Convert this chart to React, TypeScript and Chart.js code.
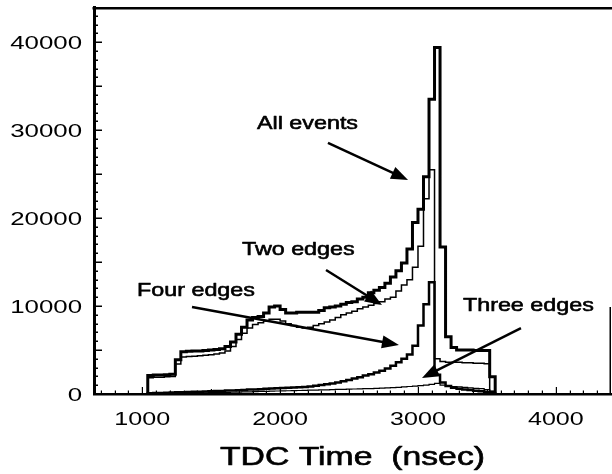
import { useEffect, useRef } from "react";
import { Chart, registerables } from "chart.js";

Chart.register(...registerables);

// Histogram binning (ns)
const BIN_START = 1040;
const BIN_WIDTH = 40;

// Counts per 40 ns bin, starting at BIN_START
const ALL_EVENTS = [
  2100, 2150, 2150, 2200, 2250,
  3900,
  4800, 4850, 4900, 4900, 4950, 5000, 5050, 5150,
  5400, 5900, 6800, 7600, 8400, 8700, 8800, 9200, 9900, 10000,
  9600, 9200, 9200, 9300, 9300, 9300, 9300, 9500, 9800, 9900,
  10000, 10200, 10400, 10500, 10800, 11000, 11500, 11800, 12100, 12600,
  13300, 14000, 14900, 16500, 19500, 21000, 24700, 33500, 39400, 16700,
  6500, 5300, 5000, 5000, 5000, 4950, 4950, 4950, 1950,
];

const TWO_EDGES = [
  1850, 1900, 1900, 1950, 2000,
  3400,
  4200, 4250, 4300, 4350, 4400, 4450, 4550, 4650,
  4900, 5400, 6200, 6900, 7500, 7900, 8100, 8300, 8500, 8500,
  8300, 8000, 7800, 7600, 7500, 7600, 7800, 8000, 8200, 8400,
  8700, 9000, 9200, 9400, 9700, 9900, 10100, 10300, 10500, 10800,
  11000, 11700, 12400, 13000, 14400, 16800, 22200, 25500, 4000, 3700,
  3600, 3600, 3600, 3550, 3550, 3500, 3500, 3450, 300,
];

const FOUR_EDGES = [
  90, 110, 120, 150, 160, 190, 200, 230, 250, 260,
  290, 300, 340, 350, 390, 400, 440, 460, 500, 520,
  550, 590, 620, 660, 690, 720, 740, 770, 800, 860,
  930, 1020, 1100, 1200, 1300, 1450, 1600, 1750, 1900, 2100,
  2250, 2450, 2650, 2900, 3200, 3600, 4000, 4500, 5500, 7800,
  10200, 12700, 2200,
  1300, 900, 700, 600, 520, 450, 380, 300, 230, 120,
];

const THREE_EDGES = [
  40, 50, 55, 65, 70, 80, 95, 100, 110, 125,
  130, 150, 160, 170, 190, 200, 220, 240, 250, 270,
  290, 300, 320, 340, 350, 370, 380, 400, 420, 430,
  450, 470, 480, 500, 520, 530, 550, 570, 580, 600,
  620, 640, 660, 690, 720, 750, 800, 850, 900, 950,
  1000, 1100, 1200,
  1000, 900, 850, 800, 760, 700, 650, 600, 500, 300,
];

const X_TICKS = [1000, 2000, 3000, 4000];
const Y_TICKS = [0, 10000, 20000, 30000, 40000];
const X_MIN = 650;
const X_MAX = 4400;
const Y_MIN = 0;
const Y_MAX = 44000;
const X_TITLE = "TDC Time  (nsec)";

// Callouts in data coordinates: label anchor (left, baseline) and arrow from -> to
const NOTES = [
  { text: "All events", at: [1832, 30100], from: [2347, 28540], to: [2928, 24330] },
  { text: "Two edges", at: [1723, 15800], from: [2333, 14100], to: [2739, 10120] },
  { text: "Four edges", at: [962, 11090], from: [1361, 9890], to: [2862, 5570] },
  { text: "Three edges", at: [3326, 9380], from: [3747, 7500], to: [3029, 1820] },
];

function outline(counts: number[]) {
  const pts = [{ x: BIN_START, y: 0 }];
  counts.forEach((c, i) => pts.push({ x: BIN_START + i * BIN_WIDTH, y: c }));
  pts.push({ x: BIN_START + counts.length * BIN_WIDTH, y: 0 });
  return pts;
}

function wideText(
  ctx: CanvasRenderingContext2D,
  text: string,
  x: number,
  y: number,
  sx: number,
  align: CanvasTextAlign,
  weight = 0
) {
  ctx.save();
  ctx.translate(x, y);
  ctx.scale(sx, 1);
  ctx.textAlign = align;
  ctx.textBaseline = "alphabetic";
  ctx.fillText(text, 0, 0);
  if (weight > 0) {
    ctx.lineWidth = weight;
    ctx.lineJoin = "round";
    ctx.strokeText(text, 0, 0);
  }
  ctx.restore();
}

function drawArrow(
  ctx: CanvasRenderingContext2D,
  x0: number,
  y0: number,
  x1: number,
  y1: number
) {
  const ang = Math.atan2(y1 - y0, x1 - x0);
  const len = 17;
  const half = 6.5;
  const c = Math.cos(ang);
  const s = Math.sin(ang);
  const bx = x1 - len * c;
  const by = y1 - len * s;
  ctx.lineWidth = 2.5;
  ctx.beginPath();
  ctx.moveTo(x0, y0);
  ctx.lineTo(bx + 2 * c, by + 2 * s);
  ctx.stroke();
  ctx.beginPath();
  ctx.moveTo(x1, y1);
  ctx.lineTo(bx + half * s, by - half * c);
  ctx.lineTo(bx - half * s, by + half * c);
  ctx.closePath();
  ctx.fill();
}

const decorations = {
  id: "decorations",
  afterDraw(chart: any) {
    const { ctx, chartArea: a } = chart;
    const xs = chart.scales.x;
    const ys = chart.scales.y;
    ctx.save();
    ctx.strokeStyle = "#000";
    ctx.fillStyle = "#000";
    ctx.lineCap = "butt";

    // frame: top edge and the lower part of the right edge
    ctx.lineWidth = 2.5;
    ctx.beginPath();
    ctx.moveTo(a.left - 1.5, a.top + 1.25);
    ctx.lineTo(a.right + 1, a.top + 1.25);
    ctx.stroke();
    ctx.lineWidth = 1.5;
    ctx.beginPath();
    ctx.moveTo(a.right - 0.75, ys.getPixelForValue(9900));
    ctx.lineTo(a.right - 0.75, a.bottom);
    ctx.stroke();

    // inward minor ticks on the y axis
    ctx.lineWidth = 1.5;
    for (let v = 1000; v < Y_MAX; v += 1000) {
      const py = Math.round(ys.getPixelForValue(v)) + 0.25;
      const len = v % 5000 === 0 ? 8 : 4;
      ctx.beginPath();
      ctx.moveTo(a.left, py);
      ctx.lineTo(a.left + len, py);
      ctx.stroke();
    }
    // inward minor ticks on the x axis
    ctx.lineWidth = 1.2;
    for (let v = 700; v < X_MAX; v += 100) {
      const px = Math.round(xs.getPixelForValue(v)) + 0.4;
      const len = v % 1000 === 0 ? 7 : v % 500 === 0 ? 5 : 3.5;
      ctx.beginPath();
      ctx.moveTo(px, a.bottom);
      ctx.lineTo(px, a.bottom - len);
      ctx.stroke();
    }

    // tick labels
    ctx.font = "19px 'Liberation Sans'";
    ys.ticks.forEach((t: any) => {
      const py = ys.getPixelForValue(t.value);
      wideText(ctx, String(t.value), a.left - 12, py + 7, 1.36, "right");
    });
    xs.ticks.forEach((t: any) => {
      const px = xs.getPixelForValue(t.value);
      wideText(ctx, String(t.value), px, a.bottom + 30.5, 1.32, "center");
    });

    // axis title
    ctx.font = "25px 'Liberation Sans'";
    wideText(ctx, X_TITLE, (a.left + a.right) / 2, 465, 1.35, "center", 0.6);

    // callouts
    ctx.font = "18.5px 'Liberation Sans'";
    NOTES.forEach((n) => {
      wideText(
        ctx,
        n.text,
        xs.getPixelForValue(n.at[0]),
        ys.getPixelForValue(n.at[1]),
        1.26,
        "left",
        0.6
      );
      drawArrow(
        ctx,
        xs.getPixelForValue(n.from[0]),
        ys.getPixelForValue(n.from[1]),
        xs.getPixelForValue(n.to[0]),
        ys.getPixelForValue(n.to[1])
      );
    });

    ctx.restore();
  },
};

export default function App() {
  const canvasRef = useRef<HTMLCanvasElement | null>(null);

  useEffect(() => {
    const canvas = canvasRef.current;
    if (!canvas) return;
    const series = (data: number[], width: number, order: number) => ({
      data: outline(data),
      stepped: true as const,
      borderColor: "#000",
      borderWidth: width,
      pointRadius: 0,
      fill: false,
      tension: 0,
      order,
    });
    const chart = new Chart(canvas, {
      type: "line",
      data: {
        datasets: [
          { label: "All events", ...series(ALL_EVENTS, 3, 1) },
          { label: "Four edges", ...series(FOUR_EDGES, 2.5, 2) },
          { label: "Two edges", ...series(TWO_EDGES, 1.5, 3) },
          { label: "Three edges", ...series(THREE_EDGES, 1.2, 4) },
        ],
      },
      options: {
        responsive: false,
        animation: false,
        layout: { padding: { top: 7, right: 1, left: 0, bottom: 0 } },
        plugins: {
          legend: { display: false },
          tooltip: { enabled: false },
        },
        scales: {
          x: {
            type: "linear",
            min: X_MIN,
            max: X_MAX,
            grid: { display: false, drawTicks: false },
            border: { display: true, width: 2.5, color: "#000" },
            ticks: { display: false },
            afterBuildTicks: (s: any) => {
              s.ticks = X_TICKS.map((v) => ({ value: v }));
            },
            afterFit: (s: any) => {
              s.height = 80;
            },
          },
          y: {
            type: "linear",
            min: Y_MIN,
            max: Y_MAX,
            grid: { display: false, drawTicks: false },
            border: { display: true, width: 3, color: "#000" },
            ticks: { display: false },
            afterBuildTicks: (s: any) => {
              s.ticks = Y_TICKS.map((v) => ({ value: v }));
            },
            afterFit: (s: any) => {
              s.width = 94;
            },
          },
        },
      },
      plugins: [decorations],
    });
    return () => chart.destroy();
  }, []);

  return (
    <canvas
      ref={canvasRef}
      width={612}
      height={474}
      style={{ position: "fixed", left: 0, top: 0, display: "block", background: "#fff" }}
    />
  );
}
